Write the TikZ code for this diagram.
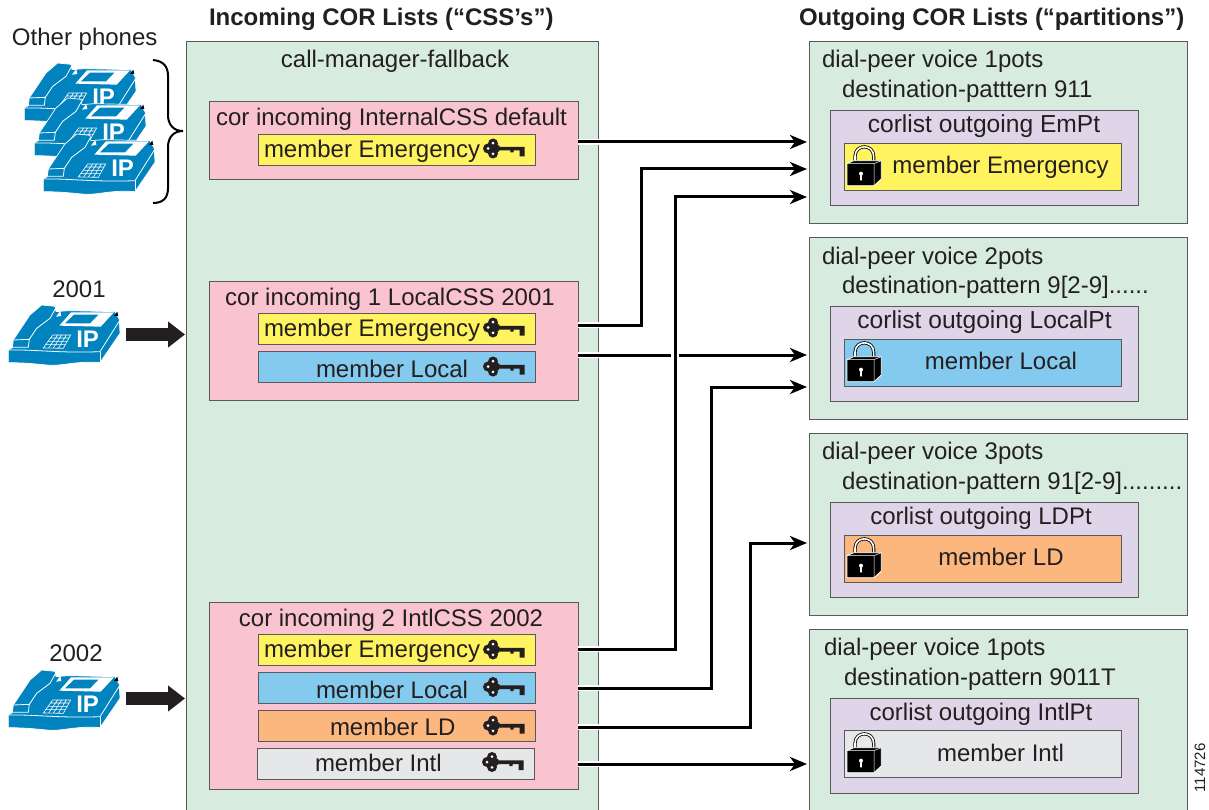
\documentclass[tikz,border=0pt]{standalone}
\usepackage{fontspec}
\setmainfont{Liberation Sans}
\usetikzlibrary{arrows.meta}
\definecolor{gbox}{HTML}{D7EBDE}
\definecolor{pbox}{HTML}{F9C4CF}
\definecolor{ybox}{HTML}{FFF35F}
\definecolor{bbox}{HTML}{83CAEE}
\definecolor{obox}{HTML}{FBB77E}
\definecolor{ebox}{HTML}{E6E7E8}
\definecolor{vbox}{HTML}{DFD5E8}
\definecolor{phoneblue}{HTML}{0083BE}
\definecolor{edge}{HTML}{58595B}
\definecolor{ink}{HTML}{231F20}
\tikzset{
  x=1pt,y=-1pt,
  panel/.style={draw=edge,line width=0.9pt,inner sep=0pt,outer sep=0pt},
  label/.style={inner sep=0pt,outer sep=0pt,text=ink,font=\fontsize{24}{29}\selectfont},
  lw/.style={label,anchor=base west},
  lc/.style={label,anchor=base},
  halo/.style={white,line width=6pt},
  conn/.style={black,line width=3pt,shorten >=2pt,-{Stealth[length=17pt,width=14pt,inset=5pt]}},
  heavy/.style={ink,line width=12.5pt,-{Triangle[length=17pt,width=25pt]}},
  ipphone/.pic={
    \begin{scope}[x=0.3333pt,y=-0.3333pt]
      \path[fill=phoneblue,draw=white,line width=0.7pt]
        (25,278) -- (25,240) -- (37,233) -- (40,210) -- (90,135) -- (125,105) -- (165,109)
        -- (168,125) -- (205,122) -- (345,125) -- (358,148) -- (360,190) -- (300,278)
        .. controls (220,272) and (190,290) .. (140,285) .. controls (90,280) and (60,278) .. (25,278) -- cycle;
      \draw[white,line width=0.8pt] (25,240) .. controls (100,238) and (180,250) .. (300,245) -- (360,150);
      \draw[white,line width=0.8pt] (300,245) -- (300,278);
      \draw[white,line width=0.8pt] (38,232) -- (85,232) -- (88,208) -- (40,210);
      \draw[white,line width=0.8pt] (88,208) -- (110,175) -- (130,160) -- (150,145) -- (165,118);
      \fill[white] (168,140) -- (181,123) -- (184,138) -- cycle;
      \fill[white] (178,167) -- (213,127) -- (342,127) -- (302,170) -- cycle;
      \fill[phoneblue] (195,160) -- (222,134) -- (295,134) -- (270,160) -- cycle;
      \fill[black] (342,138) -- (352,125) -- (355,138) -- cycle;
      \draw[white,line width=0.6pt]
        (130,234) -- (158,195) -- (212,195) -- (190,235) -- cycle
        (138,224) -- (196,224) (146,214) -- (201,214) (152,204) -- (206,204)
        (146,234) -- (173,195) (160,234) -- (185,195) (175,235) -- (199,195);
      \node[inner sep=0pt,outer sep=0pt,anchor=base west,text=white,font=\fontsize{24}{24}\selectfont\bfseries] (-ip) at (229,232) {IP};
    \end{scope}
  },
  keyglyph/.pic={
    \begin{scope}[x=0.3333pt,y=-0.3333pt,shift={(-130,-86)}]
      \fill[ink] (160,71) circle (15) (160,101) circle (15) (145,86) circle (15) (170,86) circle (12);
      \fill[ink] (180,81) -- (255,81) -- (255,110) -- (240,110) -- (240,92) -- (222,92) -- (222,98) -- (212,98) -- (212,92) -- (180,92) -- cycle;
      \fill[white] (160,70) circle (4.5) (160,102) circle (4.5) (145,86) circle (4.5);
    \end{scope}
  },
  lockglyph/.pic={
    \begin{scope}[x=0.3333pt,y=-0.3333pt,shift={(-82,-142)}]
      \draw[black,line width=3.2pt] (106,188) -- (106,170) .. controls (106,132) and (162,132) .. (162,170) -- (162,188);
      \draw[white,line width=1.6pt] (106,188) -- (106,170) .. controls (106,132) and (162,132) .. (162,170) -- (162,188);
      \path[fill=black,draw=white,line width=0.8pt] (82,192) -- (102,183) -- (185,183) -- (185,238) -- (163,258) -- (82,258) -- cycle;
      \draw[white,line width=0.5pt] (82,192) -- (163,192) -- (185,183) (163,192) -- (163,258);
      \fill[white] (124,222) circle (6);
      \fill[white] (122,222) -- (126,222) -- (127,242) -- (121,242) -- cycle;
    \end{scope}
  },
}
\newcommand{\bx}[6]{%
  \pgfmathsetmacro{\bxw}{#4-#2}\pgfmathsetmacro{\bxh}{#5-#3}%
  \pgfmathsetmacro{\bxx}{(#4+#2)/2}\pgfmathsetmacro{\bxy}{(#5+#3)/2}%
  \node[panel,fill=#6,minimum width=\bxw pt,minimum height=\bxh pt] (#1) at (\bxx,\bxy) {};}
\begin{document}
\begin{tikzpicture}
\useasboundingbox (0,0) rectangle (1209,810);
\begin{scope}
\clip (0,0) rectangle (1209,810);
% panels
\bx{main}{186}{41}{598}{830}{gbox}
\bx{inA}{209}{101}{578}{179}{pbox}
\bx{inB}{209}{281.5}{578}{400.5}{pbox}
\bx{inC}{209}{602.5}{578}{789.5}{pbox}
\bx{mA}{258}{134}{535}{165}{ybox}
\bx{mBa}{258}{313.5}{535}{344.5}{ybox}
\bx{mBb}{258}{351.5}{535}{382.5}{bbox}
\bx{mCa}{258}{634.5}{535}{665.5}{ybox}
\bx{mCb}{258}{672.5}{535}{703.5}{bbox}
\bx{mCc}{258}{710.5}{535}{741.5}{obox}
\bx{mCd}{257}{748.5}{534}{779.5}{ebox}
\bx{dpA}{809}{41}{1187}{223}{gbox}
\bx{dpB}{809}{237}{1187}{419}{gbox}
\bx{dpC}{809}{433}{1187}{615}{gbox}
\bx{dpD}{809}{629}{1187}{830}{gbox}
\bx{clA}{830}{110}{1138}{205}{vbox}
\bx{clB}{830}{306}{1138}{401}{vbox}
\bx{clC}{830}{502}{1138}{597}{vbox}
\bx{clD}{830}{698}{1138}{793}{vbox}
\bx{ptA}{844}{143}{1121}{190}{ybox}
\bx{ptB}{844}{339}{1121}{386}{bbox}
\bx{ptC}{844}{535}{1121}{582}{obox}
\bx{ptD}{844}{730}{1121}{777}{ebox}
\end{scope}
% texts
\node[lw,font=\fontsize{24}{29}\selectfont\bfseries] (titleL) at (209,26) {Incoming COR Lists (“CSS’s”)};
\node[lw,font=\fontsize{24}{29}\selectfont\bfseries] (titleR) at (799,26) {Outgoing COR Lists (“partitions”)};
\node[lw] (tOther) at (12,46) {Other phones};
\node[lc] (t2001) at (79,297) {2001};
\node[lc] (t2002) at (76,661) {2002};
\node[lc] (tCM) at (395,67.5) {call-manager-fallback};
\node[lc] (tA) at (391.5,125.5) {cor incoming InternalCSS default};
\node[lc] (tB) at (390,305) {cor incoming 1 LocalCSS 2001};
\node[lc] (tC) at (391,626) {cor incoming 2 IntlCSS 2002};
\node[lw] (tmA) at (264,157.5) {member Emergency};
\node[lw] (tmBa) at (264,336) {member Emergency};
\node[lw] (tmBb) at (316,377) {member Local};
\node[lw] (tmCa) at (264,657) {member Emergency};
\node[lw] (tmCb) at (316,698) {member Local};
\node[lw] (tmCc) at (330,735) {member LD};
\node[lw] (tmCd) at (315,771) {member Intl};
\node[lw] (d1a) at (822,67.5) {dial-peer voice 1pots};
\node[lw] (d1b) at (842,97.5) {destination-patttern 911};
\node[lw] (d2a) at (822,264.5) {dial-peer voice 2pots};
\node[lw] (d2b) at (842,293) {destination-pattern 9[2-9]......};
\node[lw] (d3a) at (822,459.5) {dial-peer voice 3pots};
\node[lw] (d3b) at (842,489) {destination-pattern 91[2-9].........};
\node[lw] (d4a) at (824,655) {dial-peer voice 1pots};
\node[lw] (d4b) at (844,685) {destination-pattern 9011T};
\node[lc,font=\fontsize{24.6}{29}\selectfont] (c1) at (984,132.5) {corlist outgoing EmPt};
\node[lc,font=\fontsize{24.6}{29}\selectfont] (c2) at (984.5,328.5) {corlist outgoing LocalPt};
\node[lc] (c3) at (981,524) {corlist outgoing LDPt};
\node[lc] (c4) at (981,720) {corlist outgoing IntlPt};
\node[lc] (pt1) at (1000.5,173.5) {member Emergency};
\node[lc] (pt2) at (1001,369) {member Local};
\node[lc] (pt3) at (1001,565) {member LD};
\node[lc] (pt4) at (1000.5,761) {member Intl};
\node[label,font=\fontsize{15}{15}\selectfont,rotate=90,anchor=base] (fig) at (1205,768) {114726};
% keys
\pic at (483,148.5) {keyglyph};
\pic at (483,327.5) {keyglyph};
\pic at (483,366.5) {keyglyph};
\pic at (483,649.5) {keyglyph};
\pic at (483,687) {keyglyph};
\pic at (483,725.5) {keyglyph};
\pic at (482,762) {keyglyph};
% locks
\pic at (847,147) {lockglyph};
\pic at (847,343) {lockglyph};
\pic at (847,539) {lockglyph};
\pic at (847,734) {lockglyph};
% phones
\pic (ph1) at (16,28) {ipphone};
\pic (ph2) at (26,63) {ipphone};
\pic (ph3) at (35,99) {ipphone};
\pic (ph4) at (0,270) {ipphone};
\pic (ph5) at (0,635) {ipphone};
% brace
\coordinate (brT) at (153,60);
\coordinate (brM) at (183,131);
\coordinate (brB) at (153,203);
\draw[black,line width=2pt] (brT) .. controls (163,61) and (168,66) .. (168,76) -- (168,115)
  .. controls (168,124) and (173,131) .. (brM) .. controls (173,131) and (168,138) .. (168,147)
  -- (168,188) .. controls (168,198) and (163,203) .. (brB);
% heavy arrows
\coordinate (hA) at (126,334.5);
\coordinate (hAe) at (185,334.5);
\coordinate (hB) at (126,698.5);
\coordinate (hBe) at (185,698.5);
\draw[heavy] (hA) -- (hAe);
\draw[heavy] (hB) -- (hBe);
% connectors
\coordinate (s1) at (inA.east |- 0,142);
\coordinate (s2) at (inB.east |- 0,325);
\coordinate (s3) at (inC.east |- 0,649);
\coordinate (s4) at (inB.east |- 0,355);
\coordinate (s5) at (inC.east |- 0,688);
\coordinate (s6) at (inC.east |- 0,727);
\coordinate (s7) at (inC.east |- 0,764);
\coordinate (e1) at (dpA.west |- 0,142);
\coordinate (e2) at (dpA.west |- 0,169);
\coordinate (e3) at (dpA.west |- 0,197);
\coordinate (e4) at (dpB.west |- 0,355);
\coordinate (e5) at (dpB.west |- 0,387);
\coordinate (e6) at (dpC.west |- 0,543);
\coordinate (e7) at (dpD.west |- 0,764);
\foreach \a/\b in {s1/e1,s4/e4,s7/e7} {
  \draw[halo] (\a) -- ++(24,0);
  \draw[conn] (\a) -- (\b);
}
\foreach \a/\b/\m in {s2/e2/641,s5/e5/711,s6/e6/750} {
  \draw[halo] (\a) -- ++(24,0);
  \draw[conn] (\a) -| (\m,0 |- \b) -- (\b);
}
\draw[halo] (s3) -- ++(24,0);
\draw[white,line width=8pt] (675,320) -- (675,390);
\draw[conn] (s3) -| (675,0 |- e3) -- (e3);
\end{tikzpicture}
\end{document}
